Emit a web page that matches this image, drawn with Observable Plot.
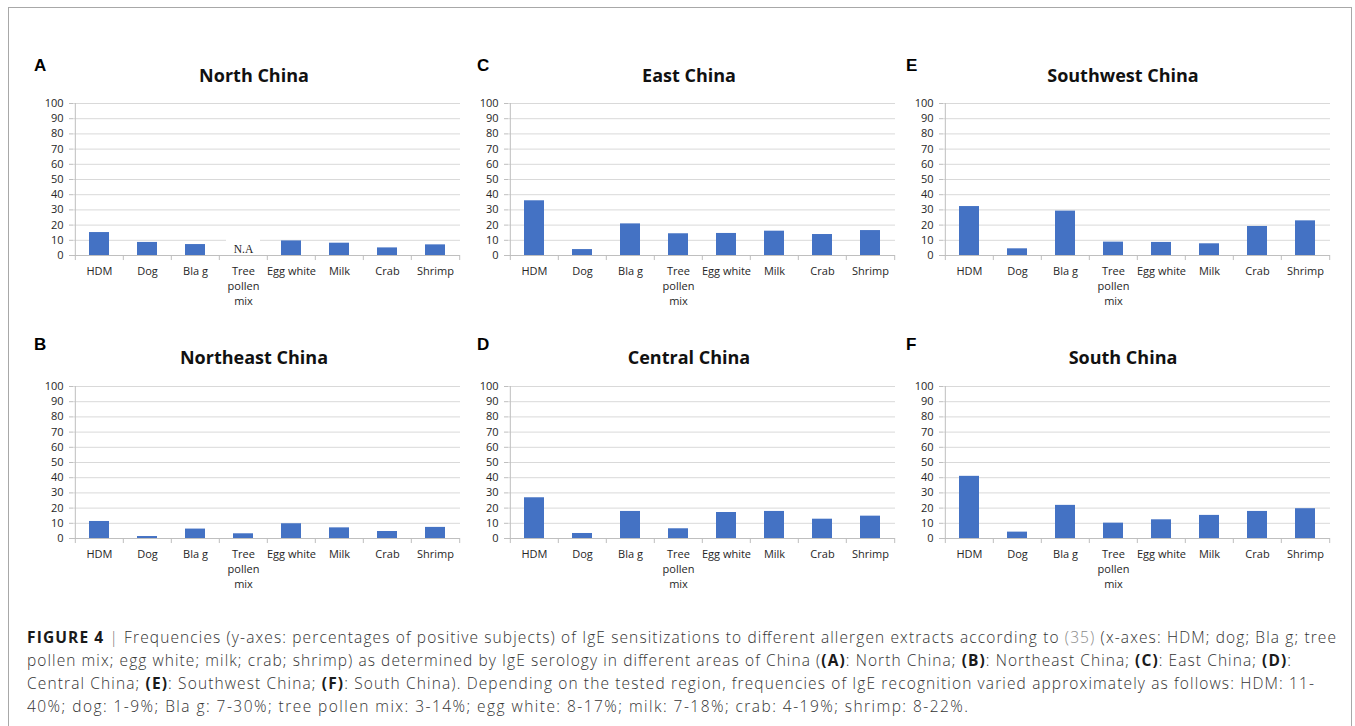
<!DOCTYPE html>
<html><head><meta charset="utf-8">
<script src="https://cdn.jsdelivr.net/npm/d3@7"></script>
<script src="https://cdn.jsdelivr.net/npm/@observablehq/plot@0.6"></script>
<style>
body{margin:0;background:#fff;}
#root{position:relative;width:1355px;height:726px;overflow:hidden;background:#fff;}
.frame{position:absolute;left:8px;top:7px;width:1344px;height:760px;border:1.5px solid #a8a8a8;box-sizing:border-box;}
.panel{position:absolute;}
#overlay{position:absolute;left:0;top:0;}
</style>
</head><body>
<div id="root"><div class="frame"></div></div>
<script>
// ---------- data ----------
const categories = ["HDM","Dog","Bla g","Tree pollen mix","Egg white","Milk","Crab","Shrimp"];
const tickLabels = ["HDM","Dog","Bla g","Tree\npollen\nmix","Egg white","Milk","Crab","Shrimp"];
const yTicks = [0,10,20,30,40,50,60,70,80,90,100];
const northChina     = [15.1, 8.6, 7.2, null, 9.6, 8.1, 5.0, 7.0];
const northeastChina = [11.2, 1.3, 6.2, 3.1, 9.7, 7.0, 4.6, 7.3];
const eastChina      = [36.0, 3.9, 20.8, 14.3, 14.5, 16.0, 13.8, 16.4];
const centralChina   = [26.8, 3.3, 17.8, 6.4, 17.1, 17.8, 12.7, 14.7];
const southwestChina = [32.2, 4.4, 29.2, 8.8, 8.6, 7.7, 19.1, 22.8];
const southChina     = [40.9, 4.2, 21.8, 10.1, 12.3, 15.2, 17.8, 19.6];
const panelLetters = ["A","B","C","D","E","F"];
const panelTitles = ["North China","Northeast China","East China","Central China","Southwest China","South China"];
const panelValues = [northChina, northeastChina, eastChina, centralChina, southwestChina, southChina];
const naLabel = "N.A";

// ---------- layout ----------
const colLeft = [72.5, 507.5, 942.5];
const rowTop = [102.7, 385.5];
const titleCx = [254, 689, 1123];
const titleBase = [81.7, 364.3];
const letterX = [34, 477, 906];
const letterBase = [71, 349.5];
const W = 387, H = 152, ML = 42, MR = 8, MT = 10, MB = 60;
const BLUE = "#4472c4", GRID = "#d9d9d9", AX = "#bfbfbf";

const root = document.getElementById("root");

function makePanel(values){
  const data = categories.map((c,i)=>({cat:c, label:tickLabels[i], value:values[i]}));
  const step = W / categories.length;
  const missing = data.filter(d => d.value == null);
  const marks = [
    Plot.ruleY(yTicks.filter(t=>t>0), {stroke:GRID, strokeWidth:1}),
    Plot.barY(missing.map(d=>({cat:d.cat, v:11})), {x:"cat", y:"v", fill:"white", insetLeft:-7, insetRight:-7}),
    Plot.barY(data.filter(d=>d.value!=null), {x:"cat", y:"value", fill:BLUE}),
    Plot.ruleY([0], {stroke:AX}),
    Plot.ruleX([categories[0]], {y1:0, y2:100, dx:-step/2, stroke:AX}),
    Plot.ruleX(categories, {y1:0, y2:-3.3, dx:-step/2, stroke:AX}),
    Plot.ruleX([categories[categories.length-1]], {y1:0, y2:-3.3, dx:step/2, stroke:AX}),
    Plot.axisY({ticks:yTicks, tickSize:4, tickPadding:6, stroke:AX, fill:"#262626", fontSize:11, label:null}),
    Plot.text(data, {x:"cat", y:0, text:"label", dy:9, lineAnchor:"top", lineHeight:1.36, fontSize:11, fill:"#262626"}),
    Plot.text(missing, {x:"cat", y:0, text:()=>naLabel, dy:-3, lineAnchor:"bottom", fontSize:11.5, fontFamily:"Liberation Serif", fill:"#222"})
  ];
  return Plot.plot({
    width: ML + W + MR, height: MT + H + MB,
    marginLeft: ML, marginRight: MR, marginTop: MT, marginBottom: MB,
    x: {type:"band", domain:categories, paddingInner:0.59, paddingOuter:0.295, axis:null},
    y: {domain:[0,100], axis:null},
    style: {fontFamily:"'Open Sans', sans-serif", fontSize:"11px", background:"transparent", overflow:"visible"},
    marks
  });
}

panelValues.forEach((vals, i) => {
  const col = Math.floor(i/2), row = i % 2;
  const svg = makePanel(vals);
  svg.classList.add("panel");
  svg.style.left = (colLeft[col] - ML) + "px";
  svg.style.top = (rowTop[row] - MT) + "px";
  root.appendChild(svg);
});

// ---------- overlay text (titles, letters, caption) ----------
const NS = "http://www.w3.org/2000/svg";
const ov = document.createElementNS(NS, "svg");
ov.setAttribute("id","overlay"); ov.setAttribute("width",1355); ov.setAttribute("height",726);
root.appendChild(ov);
function txt(x,y,str,attrs){
  const t = document.createElementNS(NS,"text");
  t.setAttribute("x",x); t.setAttribute("y",y);
  for (const k in attrs) t.setAttribute(k, attrs[k]);
  if (str != null) t.textContent = str;
  ov.appendChild(t); return t;
}
panelValues.forEach((v,i)=>{
  const col = Math.floor(i/2), row = i % 2;
  txt(titleCx[col], titleBase[row], panelTitles[i], {"text-anchor":"middle","font-family":"Open Sans","font-weight":"bold","font-size":"18px","fill":"#111"});
  txt(letterX[col], letterBase[row], panelLetters[i], {"font-family":"Liberation Sans","font-weight":"bold","font-size":"17px","fill":"#000"});
});

const captionLines = [
  [["b","FIGURE 4"],["g"," | "],["n","Frequencies (y-axes: percentages of positive subjects) of IgE sensitizations to different allergen extracts according to "],["l","(35)"],["n"," (x-axes: HDM; dog; Bla g; tree"]],
  [["n","pollen mix; egg white; milk; crab; shrimp) as determined by IgE serology in different areas of China ("],["b","(A)"],["n",": North China; "],["b","(B)"],["n",": Northeast China; "],["b","(C)"],["n",": East China; "],["b","(D)"],["n",":"]],
  [["n","Central China; "],["b","(E)"],["n",": Southwest China; "],["b","(F)"],["n",": South China). Depending on the tested region, frequencies of IgE recognition varied approximately as follows: HDM: 11-"]],
  [["n","40%; dog: 1-9%; Bla g: 7-30%; tree pollen mix: 3-14%; egg white: 8-17%; milk: 7-18%; crab: 4-19%; shrimp: 8-22%."]]
];
const captionWidths = [1309, 1264, 1287, 941];
const capX = 27, capBase = 643, capLH = 23;
captionLines.forEach((line, li) => {
  const attrs = {"font-family":"'Open Sans'","font-weight":"300","font-size":"15.5px","fill":"#333","xml:space":"preserve",
                 "textLength":captionWidths[li], "lengthAdjust":"spacing"};
  const t = txt(capX, capBase + li*capLH, null, attrs);
  line.forEach(([k,s])=>{
    const ts = document.createElementNS(NS,"tspan");
    ts.textContent = s;
    if (k==="b"){ ts.setAttribute("font-weight","bold"); ts.setAttribute("fill","#1a1a1a"); }
    if (k==="g"){ ts.setAttribute("fill","#777"); }
    if (k==="l"){ ts.setAttribute("fill","#8a8a8a"); }
    t.appendChild(ts);
  });
});
</script>
</body></html>
